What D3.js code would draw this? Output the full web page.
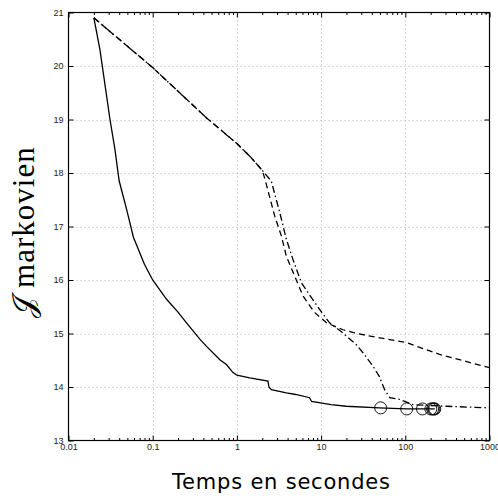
<!DOCTYPE html>
<html>
<head>
<meta charset="utf-8">
<script src="https://cdn.jsdelivr.net/npm/d3@7"></script>
<style>
  html, body { margin: 0; padding: 0; background: #fff; }
  svg { display: block; }
</style>
</head>
<body>
<div id="chart"></div>
<script>
// tick values and labels
const xTicks = [0.01, 0.1, 1, 10, 100, 1000];
const xTickLabels = ['0.01', '0.1', '1', '10', '100', '1000'];
const yTicks = [13, 14, 15, 16, 17, 18, 19, 20, 21];

// solid curve
const solidX = [0.02, 0.0236, 0.0311, 0.0356, 0.040, 0.049, 0.059, 0.08, 0.1, 0.146, 0.2, 0.252, 0.365, 0.436, 0.628, 0.75, 0.9, 1.0, 1.42, 2.34, 2.4, 2.56, 3.87, 5, 7.3, 7.7, 13.1, 19.9, 49, 104, 160, 201, 224];
const solidY = [20.9, 20.31, 19.0, 18.44, 17.85, 17.32, 16.8, 16.29, 16.0, 15.64, 15.4, 15.2, 14.89, 14.76, 14.51, 14.42, 14.27, 14.22, 14.17, 14.11, 14.0, 13.95, 13.89, 13.86, 13.80, 13.73, 13.67, 13.64, 13.61, 13.59, 13.59, 13.59, 13.59];

// dashed curve
const dashedX = [0.02, 0.1, 0.436, 1, 1.43, 2.0, 2.14, 2.82, 3.38, 3.87, 4.86, 6.1, 8.4, 11.6, 18.2, 25, 36, 103, 255, 1000];
const dashedY = [20.9, 19.97, 19.03, 18.55, 18.31, 18.05, 17.9, 17.19, 16.82, 16.44, 16.07, 15.70, 15.39, 15.2, 15.07, 15.01, 14.96, 14.83, 14.61, 14.36];

// dash-dot curve
const dashdotX = [0.02, 0.1, 0.436, 1, 1.43, 2.0, 2.56, 3.23, 3.87, 4.64, 5.83, 7.0, 9.6, 12.6, 18.2, 26.2, 31.4, 41.3, 49, 56.8, 65.2, 85, 123, 306, 1000];
const dashdotY = [20.9, 19.97, 19.03, 18.55, 18.31, 18.05, 17.85, 17.26, 16.76, 16.38, 15.95, 15.76, 15.45, 15.2, 15.01, 14.79, 14.64, 14.39, 14.2, 13.95, 13.8, 13.77, 13.67, 13.64, 13.61];

// circle markers
const circleX = [51, 104, 160, 201, 211, 218, 224];
const circleY = [13.61, 13.59, 13.59, 13.59, 13.59, 13.59, 13.59];

const width = 498, height = 500;
const plotLeft = 68.5, plotRight = 489.5, plotTop = 12.5, plotBottom = 440.5;

const svg = d3.select('#chart').append('svg')
    .attr('width', width)
    .attr('height', height);

const x = d3.scaleLog().domain([0.01, 1000]).range([plotLeft, plotRight]);
const y = d3.scaleLinear().domain([13, 21]).range([plotBottom, plotTop]);

// minor ticks of the log axis
const minorTicks = [];
for (let e = -2; e < 3; e++)
    for (let m = 2; m <= 9; m++)
        minorTicks.push(m * Math.pow(10, e));

// dotted grid
const grid = svg.append('g')
    .attr('stroke', '#b0b0b0')
    .attr('stroke-width', 1)
    .attr('stroke-dasharray', '1,3');
grid.selectAll('line.gx')
    .data(xTicks.slice(1, -1))
    .join('line')
    .attr('class', 'gx')
    .attr('x1', d => Math.round(x(d)) + 0.5)
    .attr('x2', d => Math.round(x(d)) + 0.5)
    .attr('y1', plotTop)
    .attr('y2', plotBottom);
grid.selectAll('line.gy')
    .data(yTicks.slice(1, -1))
    .join('line')
    .attr('class', 'gy')
    .attr('x1', plotLeft)
    .attr('x2', plotRight)
    .attr('y1', d => Math.round(y(d)) + 0.5)
    .attr('y2', d => Math.round(y(d)) + 0.5);

const axisFont = g => g.selectAll('text')
    .attr('font-family', '"Liberation Sans", Arial, sans-serif')
    .attr('font-size', 9)
    .attr('fill', '#222');

// bottom axis
svg.append('g')
    .attr('transform', `translate(0,${plotBottom})`)
    .call(d3.axisBottom(x).tickValues(xTicks).tickFormat((d, i) => xTickLabels[i])
        .tickSize(-5).tickSizeOuter(0).tickPadding(3))
    .call(axisFont)
    .call(g => g.select('.domain').remove());
svg.append('g')
    .attr('transform', `translate(0,${plotBottom})`)
    .call(d3.axisBottom(x).tickValues(minorTicks).tickFormat('')
        .tickSize(-2.5).tickSizeOuter(0))
    .call(g => g.select('.domain').remove());

// top axis
svg.append('g')
    .attr('transform', `translate(0,${plotTop})`)
    .call(d3.axisTop(x).tickValues(xTicks).tickFormat('').tickSize(-5).tickSizeOuter(0))
    .call(g => g.select('.domain').remove());
svg.append('g')
    .attr('transform', `translate(0,${plotTop})`)
    .call(d3.axisTop(x).tickValues(minorTicks).tickFormat('').tickSize(-2.5).tickSizeOuter(0))
    .call(g => g.select('.domain').remove());

// left axis
svg.append('g')
    .attr('transform', `translate(${plotLeft},0)`)
    .call(d3.axisLeft(y).tickValues(yTicks).tickFormat(d3.format('d'))
        .tickSize(-5).tickSizeOuter(0).tickPadding(5))
    .call(axisFont)
    .call(g => g.select('.domain').remove());

// right axis
svg.append('g')
    .attr('transform', `translate(${plotRight},0)`)
    .call(d3.axisRight(y).tickValues(yTicks).tickFormat('').tickSize(-5).tickSizeOuter(0))
    .call(g => g.select('.domain').remove());

// frame
svg.append('rect')
    .attr('x', plotLeft).attr('y', plotTop)
    .attr('width', plotRight - plotLeft).attr('height', plotBottom - plotTop)
    .attr('fill', 'none')
    .attr('stroke', '#000')
    .attr('stroke-width', 1.2);

const line = d3.line().x(d => x(d[0])).y(d => y(d[1]));

function drawCurve(xs, ys, dash) {
    svg.append('path')
        .datum(xs.map((v, i) => [v, ys[i]]))
        .attr('d', line)
        .attr('fill', 'none')
        .attr('stroke', '#000')
        .attr('stroke-width', 1.3)
        .attr('stroke-dasharray', dash);
}

drawCurve(dashedX, dashedY, '6,4');
drawCurve(dashdotX, dashdotY, '7,3,1.5,3');
drawCurve(solidX, solidY, null);

svg.selectAll('circle.mk')
    .data(circleX.map((v, i) => [v, circleY[i]]))
    .join('circle')
    .attr('class', 'mk')
    .attr('cx', d => x(d[0]))
    .attr('cy', d => y(d[1]))
    .attr('r', 6)
    .attr('fill', 'none')
    .attr('stroke', '#000')
    .attr('stroke-width', 0.9);

// axis titles
svg.append('text')
    .attr('x', 281)
    .attr('y', 489)
    .attr('text-anchor', 'middle')
    .attr('font-family', '"DejaVu Sans", sans-serif')
    .attr('font-size', 21)
    .attr('textLength', 218)
    .attr('lengthAdjust', 'spacing')
    .text('Temps en secondes');

const ylab = svg.append('text')
    .attr('transform', 'translate(33.5,232) rotate(-90)')
    .attr('text-anchor', 'middle')
    .attr('font-family', '"Liberation Serif", "DejaVu Serif", serif')
    .attr('font-size', 31);
ylab.append('tspan')
    .attr('font-family', '"DejaVu Serif", "DejaVu Sans", serif')
    .text('\u{1D4A5}');
ylab.append('tspan')
    .attr('letter-spacing', 1)
    .text(' markovien');
</script>
</body>
</html>
